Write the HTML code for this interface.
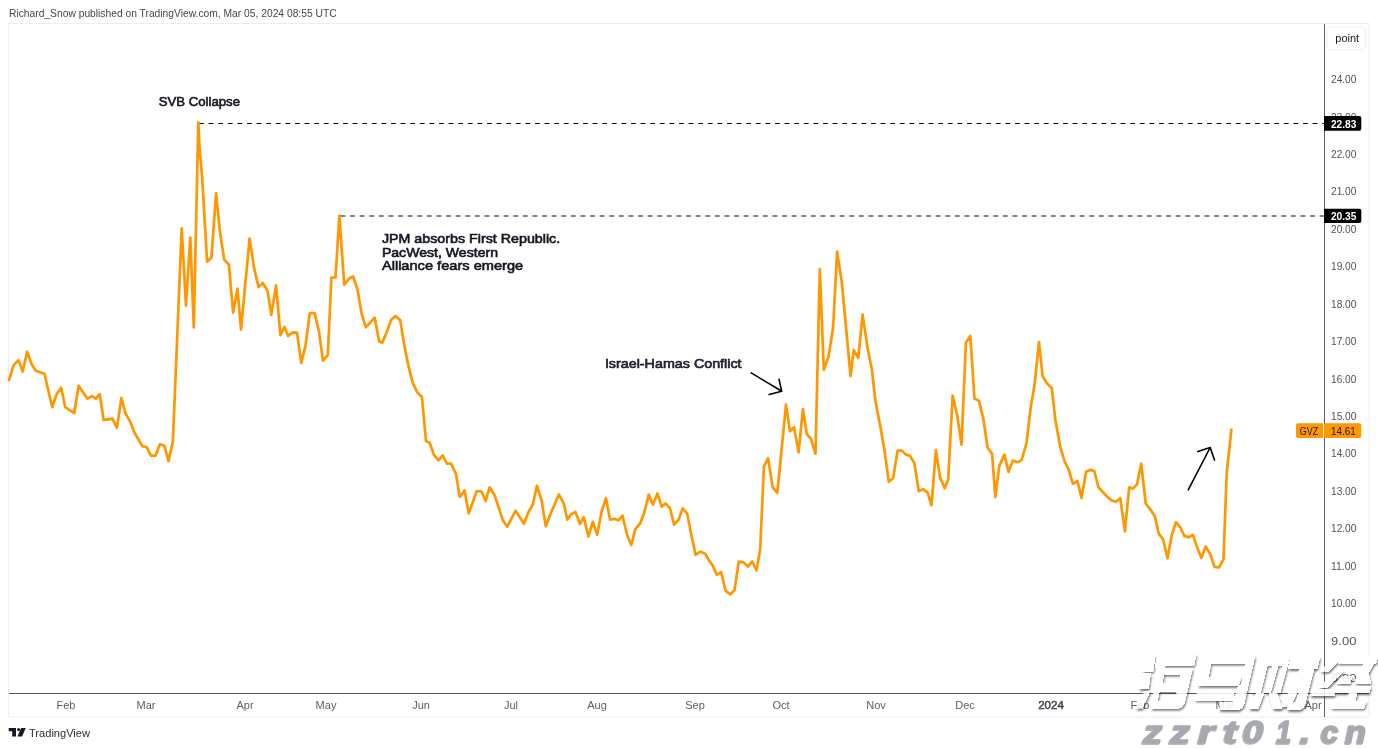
<!DOCTYPE html>
<html><head><meta charset="utf-8">
<style>
html,body{margin:0;padding:0;background:#fff;}
body{width:1378px;height:748px;overflow:hidden;position:relative;font-family:"Liberation Sans",sans-serif;}
svg{position:absolute;left:0;top:0;will-change:transform;}
.ax{font-family:'Liberation Sans',sans-serif;font-size:11px;fill:#4f525d;}
.axt{font-family:'Liberation Sans',sans-serif;font-size:11px;fill:#5d606b;}
.axb{font-family:'Liberation Sans',sans-serif;font-size:11.5px;font-weight:normal;fill:#434651;stroke:#434651;stroke-width:0.5px;}
.ann{font-family:'Liberation Sans',sans-serif;font-size:12.8px;font-weight:normal;fill:#131722;stroke:#131722;stroke-width:0.6px;}
</style></head><body>
<svg width="1378" height="748" viewBox="0 0 1378 748">
<rect x="0" y="0" width="1378" height="748" fill="#fff"/>
<text x="9" y="16.6" style="font-family:'Liberation Sans',sans-serif;font-size:11px;fill:#434651" textLength="327.6" lengthAdjust="spacingAndGlyphs">Richard_Snow published on TradingView.com, Mar 05, 2024 08:55 UTC</text>
<rect x="8.5" y="23.5" width="1360.5" height="693.5" fill="none" stroke="#eceef3" stroke-width="1"/>
<line x1="1324.5" y1="24" x2="1324.5" y2="717" stroke="#5d606b" stroke-width="1"/>
<line x1="9" y1="693.5" x2="1369" y2="693.5" stroke="#50535e" stroke-width="1"/>
<rect x="1327" y="27" width="38.5" height="23" rx="4" fill="#fff" stroke="#eceef3"/>
<text x="1335.3" y="42.1" class="ax" style="fill:#131722" textLength="23.8" lengthAdjust="spacingAndGlyphs">point</text>
<text x="1331" y="681.9" class="ax" textLength="25.4" lengthAdjust="spacingAndGlyphs">8.00</text>
<text x="1331" y="644.5" class="ax" textLength="25.4" lengthAdjust="spacingAndGlyphs">9.00</text>
<text x="1331" y="607.1" class="ax" textLength="25.4" lengthAdjust="spacingAndGlyphs">10.00</text>
<text x="1331" y="569.6" class="ax" textLength="25.4" lengthAdjust="spacingAndGlyphs">11.00</text>
<text x="1331" y="532.2" class="ax" textLength="25.4" lengthAdjust="spacingAndGlyphs">12.00</text>
<text x="1331" y="494.8" class="ax" textLength="25.4" lengthAdjust="spacingAndGlyphs">13.00</text>
<text x="1331" y="457.3" class="ax" textLength="25.4" lengthAdjust="spacingAndGlyphs">14.00</text>
<text x="1331" y="419.9" class="ax" textLength="25.4" lengthAdjust="spacingAndGlyphs">15.00</text>
<text x="1331" y="382.5" class="ax" textLength="25.4" lengthAdjust="spacingAndGlyphs">16.00</text>
<text x="1331" y="345.1" class="ax" textLength="25.4" lengthAdjust="spacingAndGlyphs">17.00</text>
<text x="1331" y="307.6" class="ax" textLength="25.4" lengthAdjust="spacingAndGlyphs">18.00</text>
<text x="1331" y="270.2" class="ax" textLength="25.4" lengthAdjust="spacingAndGlyphs">19.00</text>
<text x="1331" y="232.8" class="ax" textLength="25.4" lengthAdjust="spacingAndGlyphs">20.00</text>
<text x="1331" y="195.3" class="ax" textLength="25.4" lengthAdjust="spacingAndGlyphs">21.00</text>
<text x="1331" y="157.9" class="ax" textLength="25.4" lengthAdjust="spacingAndGlyphs">22.00</text>
<text x="1331" y="120.5" class="ax" textLength="25.4" lengthAdjust="spacingAndGlyphs">23.00</text>
<text x="1331" y="83.0" class="ax" textLength="25.4" lengthAdjust="spacingAndGlyphs">24.00</text>

<text x="66" y="708.6" text-anchor="middle" class="axt">Feb</text>
<text x="146" y="708.6" text-anchor="middle" class="axt">Mar</text>
<text x="245" y="708.6" text-anchor="middle" class="axt">Apr</text>
<text x="326" y="708.6" text-anchor="middle" class="axt">May</text>
<text x="421" y="708.6" text-anchor="middle" class="axt">Jun</text>
<text x="511" y="708.6" text-anchor="middle" class="axt">Jul</text>
<text x="597" y="708.6" text-anchor="middle" class="axt">Aug</text>
<text x="695" y="708.6" text-anchor="middle" class="axt">Sep</text>
<text x="781" y="708.6" text-anchor="middle" class="axt">Oct</text>
<text x="876" y="708.6" text-anchor="middle" class="axt">Nov</text>
<text x="965" y="708.6" text-anchor="middle" class="axt">Dec</text>
<text x="1051" y="708.6" text-anchor="middle" class="axb">2024</text>
<text x="1140" y="708.6" text-anchor="middle" class="axt">Feb</text>
<text x="1225" y="708.6" text-anchor="middle" class="axt">Mar</text>
<text x="1313" y="708.6" text-anchor="middle" class="axt">Apr</text>

<line x1="199" y1="123.5" x2="1324" y2="123.5" stroke="#000" stroke-width="1.2" stroke-dasharray="4.8 4.8"/>
<line x1="340.5" y1="216" x2="1324" y2="216" stroke="#5a5a5a" stroke-width="1.3" stroke-dasharray="4.8 4.8"/>
<polyline points="9.0,380.1 13.6,365.1 18.5,360.1 22.7,371.5 27.1,351.7 31.5,363.7 35.7,370.7 44.5,373.7 52.2,407.2 56.6,394.2 61.2,387.8 65.2,407.2 74.2,413.2 78.6,385.7 87.3,398.6 91.9,396.2 95.9,398.6 99.7,394.2 103.7,420.2 112.3,418.6 117.0,427.7 121.4,397.8 125.4,413.2 130.4,422.2 134.8,433.3 142.4,446.3 146.8,447.3 150.9,455.7 155.5,455.7 159.9,444.3 164.5,445.7 168.5,461.3 172.9,441.3 181.7,228.3 186,305.7 190.3,237.5 193.8,327.4 198.3,122.4 199.6,148.6 202.1,176.4 207.1,261.7 211.4,257.8 216.1,193.1 219.7,230 224.2,259.6 228.9,264.7 233.1,312.6 237.5,288.6 241,329.7 249.6,238.5 254,267.4 258.5,287.1 262.9,283 267.7,291.4 271.3,315 276.1,285.4 280.4,335.2 284.5,327 288.1,335.9 292.9,332.3 297,332.8 301.3,362.9 305.4,346.3 309.8,313.1 314.6,313.1 318.9,331.1 323,360.7 327.8,355.2 331.4,277.5 335.5,277.5 339.4,215.6 344.2,284.7 349.5,278.2 353.1,276.5 357.4,289 361.7,314.1 365.8,327.3 374.7,317.7 379.1,341.2 382.2,342.9 386.3,333.3 391.1,320.1 395.4,316 400.2,320.1 404.3,345.3 408.4,365.8 412.7,382.6 417.1,392.2 421.9,397 426,441.1 429.6,442.8 433.9,454.8 438.5,460.3 442.8,455.5 446.9,463.7 451.2,463.7 455.9,473.7 459.8,497 464.6,490.5 468.7,513.5 476.8,491 481.6,491.7 485.6,501 489.6,487.3 494.7,495.4 502.8,520.2 507.2,526.6 515.6,510.6 523.9,523.7 528.4,512.2 532.9,504.2 536.9,485.7 541.6,500.6 545.8,526.3 550.9,513 558.9,494.5 563.7,503.4 567.4,519.6 571,514.4 575.4,511.8 579.9,524 583.8,517.1 588.4,536.5 592.8,521.8 597.2,534.7 601.6,511.5 606,498.2 610,519.6 614.4,518.8 618.5,520.3 622.5,515.6 626.9,534.3 631.3,545 635.3,529.1 640.1,523.5 644.6,511.5 648.7,494.6 652.9,504.6 657.4,493.5 661.8,506.8 665.4,503.4 670,508.2 674,524.7 678.4,520 682.8,508.5 687.2,513.7 691.8,537.3 695.6,554.9 700.3,551.7 705.2,553.8 708.9,560.2 712.5,565.1 716.8,574.8 721.1,572.2 725.6,590.8 730.3,594.4 734.5,590.2 738.8,561.5 743.5,562.4 748,566.6 752.1,561.5 756.6,570.5 760.2,549.1 763.9,466.7 768.1,458.2 772.6,487.1 777.3,493 786,404.6 790,431.4 794,427.1 798.6,452.3 802.9,409.2 806.9,434.5 810.9,438.5 815.5,453.8 819.8,269.2 823.8,369.8 828.5,356.9 833.1,327.7 837.1,251.7 841.7,281.5 850.6,376 853.7,350.2 858.3,357.8 862.6,314.6 867.4,347.1 871.8,369.1 875.3,400 880.6,427.9 884.4,450 888.8,481.8 893.2,477.9 897.6,450.6 901.8,450.6 905.6,454.4 910,455.9 914.4,463.2 918.8,491.2 923.2,489.1 927.6,492.6 931.5,505.3 935.9,450 940,477.1 944.7,488.2 948.2,479.4 952.6,395.6 957.1,414.7 961.5,444.7 965.9,342.6 970.3,335.9 974.5,398.5 978.9,400.9 983.2,417.8 987.6,447.8 992.1,453.9 995.3,497.1 999.3,465.9 1004.4,454.6 1008.5,471.9 1012.8,460.6 1017.6,462.3 1021.7,459.9 1026.5,443 1030.8,407 1034.5,385.3 1039,342 1042.6,376.2 1047,383.4 1051.8,388.2 1055.4,420.2 1060.2,446.6 1064.5,461.1 1068.6,469.5 1072.9,483.9 1077.5,481 1081.5,498 1086.1,471.8 1090.1,469.9 1094.3,471 1098.3,487 1102.6,491.8 1107.5,497 1111.7,500.5 1116,501.7 1120.3,498.3 1124.9,531.3 1129.2,487.3 1133,488.7 1137,484.3 1141.2,463.5 1145.7,503.5 1150.4,509.6 1154.8,516.2 1158.8,533.9 1163.1,539.1 1167.5,558.3 1171.8,534.8 1176,522.2 1180.3,527.3 1184.3,535.9 1188.8,537.4 1192.9,534.8 1197.2,547.6 1201.4,557.9 1205.7,546.6 1210.2,554 1214.5,566.9 1218.8,567.5 1223.5,559.4 1226.7,472.8 1231.4,429.5" fill="none" stroke="#ff9800" stroke-width="2.7" stroke-linejoin="round" stroke-linecap="round"/>
<path d="M1324 116.1 H1359.3 Q1361.3 116.1 1361.3 118.1 V128.7 Q1361.3 130.7 1359.3 130.7 H1324 Z" fill="#000"/>
<text x="1330.9" y="127.7" style="font-family:'Liberation Sans',sans-serif;font-size:11px;font-weight:bold;fill:#fff" textLength="25.5" lengthAdjust="spacingAndGlyphs">22.83</text>
<path d="M1324 208.7 H1359.3 Q1361.3 208.7 1361.3 210.7 V220.9 Q1361.3 222.9 1359.3 222.9 H1324 Z" fill="#000"/>
<text x="1330.9" y="220.1" style="font-family:'Liberation Sans',sans-serif;font-size:11px;font-weight:bold;fill:#fff" textLength="25.5" lengthAdjust="spacingAndGlyphs">20.35</text>
<path d="M1298 423.3 H1323 V438 H1298 Q1296 438 1296 436 V425.3 Q1296 423.3 1298 423.3 Z" fill="#ff9800"/>
<text x="1299.8" y="434.6" style="font-family:'Liberation Sans',sans-serif;font-size:11px;fill:#131722" textLength="18.5" lengthAdjust="spacingAndGlyphs">GVZ</text>
<path d="M1324 423.3 H1359.3 Q1361.3 423.3 1361.3 425.3 V436 Q1361.3 438 1359.3 438 H1324 Z" fill="#ff9800"/>
<text x="1331" y="434.6" style="font-family:'Liberation Sans',sans-serif;font-size:11px;fill:#131722" textLength="24.6" lengthAdjust="spacingAndGlyphs">14.61</text>
<text x="158.7" y="106.1" class="ann" textLength="81.3" lengthAdjust="spacingAndGlyphs">SVB Collapse</text>
<text x="381.9" y="242.6" class="ann" textLength="178.3" lengthAdjust="spacingAndGlyphs">JPM absorbs First Republic.</text>
<text x="381.9" y="256.6" class="ann" textLength="116.1" lengthAdjust="spacingAndGlyphs">PacWest, Western</text>
<text x="381.9" y="270.3" class="ann" textLength="141.3" lengthAdjust="spacingAndGlyphs">Alliance fears emerge</text>
<text x="604.9" y="368.3" class="ann" style="fill:#2a2e39" textLength="136.7" lengthAdjust="spacingAndGlyphs">Israel-Hamas Conflict</text>
<g stroke="#000" stroke-width="1.6" fill="none" stroke-linecap="round" stroke-linejoin="round">
<path d="M751.2 372.9 L781.7 391.2 M779 379.3 L781.7 391.2 L769.1 394.5"/>
<path d="M1188.2 489.9 L1210.2 447.5 M1197.8 451.4 L1210.2 447.5 L1214.5 459.9"/>
</g>
<g fill="#131722">
<path d="M8.7 728 H16 V736.5 H12.2 V731.2 H8.7 Z"/>
<circle cx="18.6" cy="729.6" r="1.6"/>
<path d="M21.2 728 H25.8 L22 736.5 H17.4 Z"/>
</g>
<text x="29" y="736.5" style="font-family:'Liberation Sans',sans-serif;font-size:11px;fill:#2a2e39" textLength="61" lengthAdjust="spacingAndGlyphs">TradingView</text>
<defs><filter id="wsh" x="-10%" y="-10%" width="120%" height="120%" color-interpolation-filters="sRGB"><feGaussianBlur in="SourceAlpha" stdDeviation="1.0"/><feOffset dx="1.4" dy="1.8" result="o"/><feComponentTransfer in="SourceAlpha" result="sa"><feFuncA type="linear" slope="20"/></feComponentTransfer><feComposite in="o" in2="sa" operator="out" result="oc"/><feFlood flood-color="#333" flood-opacity="0.8"/><feComposite in2="oc" operator="in" result="s"/><feMerge><feMergeNode in="s"/><feMergeNode in="SourceGraphic"/></feMerge></filter>
<filter id="tsh" x="-20%" y="-20%" width="140%" height="140%"><feGaussianBlur in="SourceAlpha" stdDeviation="0.6"/><feOffset dx="-1" dy="1.2" result="o"/><feComponentTransfer in="o" result="s"><feFuncA type="linear" slope="0.35"/></feComponentTransfer><feMerge><feMergeNode in="s"/><feMergeNode in="SourceGraphic"/></feMerge></filter></defs>
<g filter="url(#wsh)" fill="#fff" fill-opacity="0.88">
<path fill-rule="evenodd" d="M1145,656 L1155,656 L1153,671.5 L1142.5,671.5 Z"/>
<path fill-rule="evenodd" d="M1157,659 L1166,654.5 L1196,654.5 L1194,665.5 L1166,665.5 L1164,667.5 L1155,667.5 Z"/>
<path fill-rule="evenodd" d="M1141.5,673.5 L1150.5,673.5 L1148.5,689 L1139,689 Z"/>
<path fill-rule="evenodd" d="M1144,691 L1150.5,691 L1142,708.5 L1135.5,708.5 Z"/>
<path fill-rule="evenodd" d="M1156.5,668.5 L1192.5,668.5 L1185,701 Q1183,708.5 1177,708.5 L1151,708.5 Z M1164,674.5 L1181,674.5 L1179,683.5 L1162,683.5 Z M1159.5,691.3 L1177,691.3 L1175,701.7 L1157,701.7 Z"/>
<path fill-rule="evenodd" d="M1203,656 L1255,656 L1244,704 Q1242,710 1236,710 L1219,710 L1220.5,702 L1233,702 L1246,663.5 L1211,663.5 L1208.5,677 L1243,677 L1241,685.7 L1198,685.7 Z"/>
<path fill-rule="evenodd" d="M1197,692 L1234.5,692 L1233,700.3 L1195,700.3 Z"/>
<path fill-rule="evenodd" d="M1262,656.5 L1290,656.5 L1280,693 L1252,693 Z M1267.5,665.3 L1283,665.3 L1273.5,693 L1260.4,693 Z"/>
<path fill-rule="evenodd" d="M1273,665.3 L1278.3,665.3 L1270.4,693 L1265,693 Z"/>
<path fill-rule="evenodd" d="M1256,693 L1264,693 L1258,709 L1249,709 Z"/>
<path fill-rule="evenodd" d="M1269,693 L1277,693 L1282,709 L1273,709 Z"/>
<path fill-rule="evenodd" d="M1291,657 L1320,657 L1317,669 L1288,669 Z"/>
<path fill-rule="evenodd" d="M1308,657 L1317,657 L1305,704 Q1303,710 1297,710 L1287,710 L1289,702.5 L1296,702.5 Z"/>
<path fill-rule="evenodd" d="M1300,669 L1309,669 L1290,707 L1281,707 Z"/>
<path fill-rule="evenodd" d="M1333,657 L1342,657 L1328.5,671.5 L1320,671.5 Z"/>
<path fill-rule="evenodd" d="M1335,671 L1344,671 L1327,688 L1318,688 Z"/>
<path fill-rule="evenodd" d="M1312,689 L1336,689 L1334,696 L1310,696 Z"/>
<path fill-rule="evenodd" d="M1340,656 L1378,656 L1376,663.2 L1338,663.2 Z"/>
<path fill-rule="evenodd" d="M1368,656 L1378,656 L1364,681 L1354,681 Z"/>
<path fill-rule="evenodd" d="M1358,672 L1368,672 L1371,683.5 L1355,683.5 Z"/>
<path fill-rule="evenodd" d="M1343,676 L1352,676 L1350,683.5 L1336,683.5 Z"/>
<path fill-rule="evenodd" d="M1337,686 L1371,686 L1369,693 L1335,693 Z"/>
<path fill-rule="evenodd" d="M1349,693 L1357,693 L1355,701 L1347,701 Z"/>
<path fill-rule="evenodd" d="M1333,701 L1366,701 L1364,708.3 L1331,708.3 Z"/>
</g>
<g filter="url(#tsh)" fill="#a6a9b0" stroke="#a6a9b0" stroke-width="1.4" stroke-linejoin="round" style="font-family:'Liberation Sans',sans-serif;font-weight:bold;font-style:italic;font-size:31px">
<text x="1143.2" y="742.5" textLength="19.2" lengthAdjust="spacingAndGlyphs">z</text>
<text x="1170.2" y="742.5" textLength="20.0" lengthAdjust="spacingAndGlyphs">z</text>
<text x="1198.0" y="742.5" textLength="16.6" lengthAdjust="spacingAndGlyphs">r</text>
<text x="1223.0" y="742.5" textLength="14.3" lengthAdjust="spacingAndGlyphs">t</text>
<text x="1242.5" y="742.5" textLength="20.9" lengthAdjust="spacingAndGlyphs">0</text>
<text x="1276.5" y="742.5" textLength="14.8" lengthAdjust="spacingAndGlyphs">1</text>
<text x="1300.0" y="742.5" textLength="10.4" lengthAdjust="spacingAndGlyphs">.</text>
<text x="1320.9" y="742.5" textLength="17.4" lengthAdjust="spacingAndGlyphs">c</text>
<text x="1345.2" y="742.5" textLength="20.9" lengthAdjust="spacingAndGlyphs">n</text>
</g>
</svg>
</body></html>
